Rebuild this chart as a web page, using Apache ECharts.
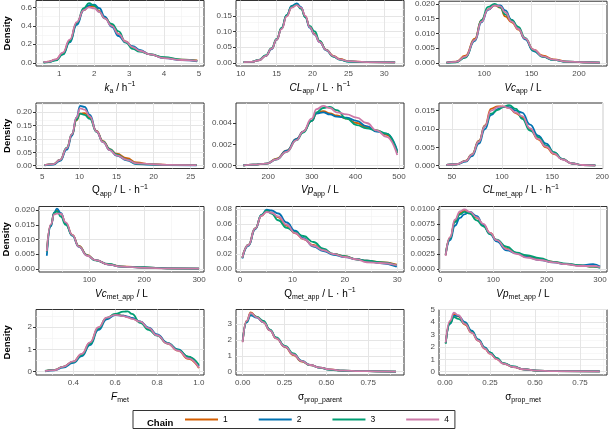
<!DOCTYPE html>
<html><head><meta charset="utf-8">
<script src="https://cdn.jsdelivr.net/npm/echarts@6/dist/echarts.min.js"></script>
<style>html,body{margin:0;padding:0;background:#fff}#c{width:612px;height:431px}</style>
</head><body><div id="c"></div>
<script>
const chains = ['1','2','3','4'];
const chainColors = ['#D55E00','#0072B2','#009E73','#CC79A7'];

// Panel 1: k_a
const kaX  = [0.55,0.7,0.9,1.1,1.3,1.5,1.7,1.85,2.0,2.15,2.3,2.5,2.7,2.9,3.1,3.3,3.6,4.0,4.5,4.95];
const kaY1 = [0.005,0.012,0.035,0.10,0.24,0.43,0.57,0.615,0.61,0.56,0.49,0.41,0.31,0.23,0.17,0.13,0.09,0.055,0.035,0.025];
const kaY2 = [0.004,0.010,0.030,0.09,0.22,0.41,0.57,0.625,0.63,0.59,0.50,0.39,0.29,0.22,0.18,0.14,0.09,0.05,0.03,0.015];
const kaY3 = [0.003,0.008,0.025,0.09,0.23,0.43,0.59,0.645,0.62,0.55,0.48,0.42,0.34,0.22,0.15,0.12,0.09,0.06,0.035,0.02];
const kaY4 = [0.006,0.013,0.037,0.11,0.25,0.44,0.57,0.60,0.59,0.55,0.48,0.40,0.31,0.23,0.17,0.13,0.09,0.05,0.03,0.02];

// Panel 2: CL_app
const clX  = [10.4,11.5,12.5,13.5,14.3,15,15.7,16.4,17.1,17.8,18.4,19,19.6,20.3,21,21.9,22.9,23.8,25,27.5,31.5];
const clY1 = [0.002,0.003,0.008,0.022,0.045,0.074,0.11,0.15,0.178,0.185,0.175,0.148,0.115,0.092,0.068,0.042,0.022,0.012,0.005,0.002,0.001];
const clY2 = [0.002,0.003,0.008,0.022,0.044,0.073,0.11,0.152,0.182,0.19,0.178,0.146,0.112,0.09,0.066,0.04,0.02,0.01,0.004,0.002,0.001];
const clY3 = [0.002,0.003,0.009,0.024,0.047,0.076,0.112,0.152,0.179,0.186,0.172,0.145,0.118,0.10,0.07,0.041,0.02,0.01,0.004,0.002,0.001];
const clY4 = [0.002,0.003,0.008,0.022,0.045,0.074,0.108,0.148,0.176,0.184,0.176,0.15,0.114,0.09,0.066,0.041,0.021,0.011,0.005,0.002,0.001];

// Panel 3: Vc_app
const vcX  = [60,70,80,90,97,104,111,117,122,129,136,143,152,162,173,187,205,222];
const vcY1 = [0.0001,0.0004,0.0024,0.0082,0.0145,0.0182,0.0195,0.0188,0.0158,0.0138,0.0113,0.0082,0.0045,0.0024,0.0012,0.0004,0.0002,0.0001];
const vcY2 = [0.0001,0.0003,0.0019,0.0075,0.0138,0.0180,0.0196,0.0195,0.0178,0.0146,0.0116,0.0080,0.0040,0.0020,0.0010,0.0004,0.0002,0.0001];
const vcY3 = [0.0000,0.0002,0.0018,0.0078,0.0145,0.0190,0.0200,0.0188,0.0165,0.0145,0.0122,0.0085,0.0042,0.0020,0.0010,0.0004,0.0002,0.0001];
const vcY4 = [0.0001,0.0003,0.0021,0.0078,0.0140,0.0182,0.0195,0.0192,0.0172,0.0140,0.0115,0.0083,0.0045,0.0022,0.0011,0.0004,0.0002,0.0001];

// Panel 4: Q_app
const qX  = [5.3,6.5,7.4,8.3,9,9.6,10.1,10.7,11.4,12.3,13.2,14.1,15,16.4,17.7,19.5,21.8,25.8];
const qY1 = [0.002,0.006,0.022,0.066,0.115,0.17,0.195,0.197,0.18,0.13,0.092,0.062,0.045,0.028,0.012,0.006,0.003,0.002];
const qY2 = [0.001,0.004,0.018,0.060,0.112,0.18,0.224,0.22,0.19,0.128,0.088,0.058,0.038,0.02,0.006,0.004,0.002,0.001];
const qY3 = [0.002,0.006,0.022,0.068,0.118,0.172,0.195,0.19,0.175,0.127,0.09,0.062,0.042,0.023,0.008,0.005,0.003,0.002];
const qY4 = [0.002,0.006,0.022,0.066,0.118,0.18,0.215,0.21,0.185,0.128,0.088,0.058,0.039,0.022,0.009,0.006,0.003,0.002];

// Panel 5: Vp_app
const vpX  = [142.6,165,196,219,242,265,280,299.5,311,326,341.5,357,380,403,425.7,448.7,471.6,496];
const vpY1 = [0.00003,0.0001,0.0002,0.00066,0.0014,0.0025,0.0032,0.0042,0.0049,0.0051,0.0049,0.0047,0.0044,0.0040,0.0036,0.0033,0.0029,0.0013];
const vpY2 = [0.00003,0.0001,0.0002,0.0006,0.0014,0.0025,0.0032,0.0042,0.0049,0.0050,0.0048,0.0046,0.0045,0.0042,0.0037,0.0032,0.0030,0.0014];
const vpY3 = [0.00002,0.0001,0.0002,0.0006,0.0013,0.0024,0.0031,0.0042,0.0050,0.0054,0.0055,0.0052,0.0044,0.0038,0.0035,0.0033,0.0030,0.0012];
const vpY4 = [0.00003,0.0001,0.0002,0.0006,0.0013,0.0024,0.0032,0.0044,0.0053,0.0056,0.0054,0.0050,0.0048,0.0045,0.0040,0.0033,0.0027,0.0010];

// Panel 6: CL_met_app
const cmX  = [44.5,55,64,70,77,83,89,96,101,107,114,120,128,136,144,152,160,170,180,193];
const cmY1 = [0.0002,0.0004,0.0014,0.0031,0.0068,0.011,0.0155,0.0162,0.0161,0.0158,0.0143,0.0132,0.0100,0.0072,0.0050,0.0032,0.0018,0.0006,0.0002,0.0001];
const cmY2 = [0.0002,0.0004,0.0011,0.0026,0.006,0.0100,0.0138,0.0155,0.0160,0.0160,0.0150,0.0145,0.0112,0.0082,0.0060,0.0036,0.0018,0.0006,0.0002,0.0001];
const cmY3 = [0.0002,0.0004,0.0013,0.0030,0.0066,0.0108,0.0142,0.0152,0.0160,0.0165,0.0155,0.0128,0.0096,0.0078,0.0055,0.0036,0.0018,0.0006,0.0002,0.0001];
const cmY4 = [0.0002,0.0004,0.0013,0.0030,0.0066,0.0108,0.0150,0.0160,0.0162,0.0157,0.0145,0.0135,0.0102,0.0073,0.0052,0.0033,0.0017,0.0006,0.0002,0.0001];

// Panel 7: Vc_met_app
const vmX  = [22.5,30,36,41,48,57,69,81,96,111,135,158,200,242,300];
const vmY1 = [0.0058,0.015,0.019,0.0198,0.0188,0.0155,0.0116,0.0078,0.0048,0.003,0.0016,0.0009,0.0005,0.0002,0.0001];
const vmY2 = [0.0045,0.0145,0.0192,0.0205,0.019,0.0153,0.0113,0.0075,0.0046,0.003,0.0015,0.0008,0.0005,0.0002,0.0001];
const vmY3 = [0.0058,0.015,0.019,0.0195,0.0178,0.015,0.0114,0.0077,0.0046,0.0029,0.0017,0.0008,0.0005,0.0002,0.0001];
const vmY4 = [0.0060,0.0152,0.0185,0.0188,0.0188,0.0158,0.0116,0.0076,0.0045,0.003,0.0015,0.0008,0.0004,0.0002,0.0001];

// Panel 8: Q_met_app
const qmX  = [0.45,1.6,2.9,4.1,5.1,6,7.3,8.9,10.5,12.1,14,15.9,17.8,20,22.2,24.2,26.7,29.9];
const qmY1 = [0.015,0.032,0.054,0.071,0.077,0.075,0.069,0.058,0.048,0.04,0.032,0.025,0.02,0.017,0.013,0.011,0.009,0.006];
const qmY2 = [0.014,0.031,0.053,0.072,0.079,0.078,0.074,0.062,0.051,0.041,0.03,0.024,0.019,0.016,0.013,0.011,0.008,0.003];
const qmY3 = [0.015,0.032,0.054,0.072,0.078,0.074,0.065,0.055,0.049,0.044,0.036,0.027,0.02,0.017,0.013,0.011,0.009,0.005];
const qmY4 = [0.015,0.032,0.054,0.071,0.076,0.075,0.07,0.059,0.048,0.04,0.031,0.025,0.02,0.016,0.013,0.009,0.008,0.005];

// Panel 9: Vp_met_app
const pmX  = [10.6,19,28,37.5,45.6,56,69,81,94,106,125,144,162,187,212,237,262,287,300];
const pmY1 = [0.0023,0.0052,0.0079,0.0093,0.0097,0.0093,0.0085,0.0074,0.006,0.0048,0.0034,0.0026,0.0021,0.0016,0.0012,0.0008,0.0006,0.0004,0.0003];
const pmY2 = [0.0024,0.0048,0.0072,0.0085,0.0091,0.0095,0.0088,0.0073,0.0058,0.0046,0.0031,0.0026,0.002,0.0015,0.0011,0.0008,0.0006,0.0008,0.0004];
const pmY3 = [0.0024,0.0051,0.0078,0.0091,0.0095,0.0092,0.0081,0.0071,0.0058,0.0049,0.0037,0.0027,0.0023,0.0018,0.0012,0.0009,0.0006,0.0004,0.0002];
const pmY4 = [0.0022,0.0053,0.0082,0.0096,0.0099,0.0095,0.0086,0.0075,0.006,0.0048,0.0033,0.0025,0.0019,0.0015,0.0011,0.0008,0.0005,0.0005,0.0003];

// Panel 10: F_met
const fX  = [0.265,0.31,0.35,0.4,0.44,0.48,0.52,0.56,0.6,0.64,0.66,0.68,0.72,0.76,0.8,0.85,0.9,0.95,1.0];
const fY1 = [0.03,0.08,0.22,0.45,0.78,1.3,1.98,2.42,2.58,2.52,2.46,2.4,2.24,1.95,1.65,1.27,0.95,0.58,0.16];
const fY2 = [0.02,0.06,0.18,0.40,0.70,1.2,1.88,2.36,2.55,2.52,2.48,2.42,2.26,1.98,1.68,1.3,1.0,0.65,0.25];
const fY3 = [0.04,0.08,0.22,0.44,0.75,1.25,1.95,2.42,2.6,2.7,2.72,2.6,2.2,1.88,1.62,1.28,0.98,0.68,0.3];
const fY4 = [0.02,0.07,0.22,0.46,0.8,1.32,2.0,2.43,2.56,2.5,2.45,2.38,2.25,1.96,1.64,1.27,0.95,0.6,0.18];

// Panel 11: sigma_prop_parent
const spX  = [0.0,0.024,0.048,0.084,0.124,0.163,0.2,0.253,0.303,0.353,0.402,0.462,0.522,0.6,0.7,0.8,0.916];
const spY1 = [1.9,3.2,3.72,3.45,3.1,2.6,2.1,1.55,1.05,0.63,0.42,0.26,0.14,0.06,0.04,0.02,0.01];
const spY2 = [1.95,3.1,3.55,3.4,3.12,2.62,2.12,1.58,1.1,0.68,0.43,0.25,0.13,0.06,0.04,0.02,0.01];
const spY3 = [1.9,3.15,3.65,3.45,3.2,2.65,2.15,1.62,1.15,0.66,0.41,0.24,0.12,0.06,0.04,0.02,0.01];
const spY4 = [1.85,3.2,3.68,3.42,3.1,2.6,2.1,1.57,1.08,0.66,0.42,0.25,0.14,0.07,0.04,0.02,0.01];

// Panel 12: sigma_prop_met
const smX  = [0.004,0.028,0.05,0.074,0.111,0.148,0.185,0.222,0.25,0.287,0.324,0.38,0.435,0.51,0.6,0.86];
const smY1 = [2.3,3.95,4.6,4.45,3.8,3.15,2.5,1.85,1.45,1.02,0.66,0.38,0.2,0.08,0.04,0.02];
const smY2 = [2.3,3.85,4.5,4.5,4.0,3.3,2.6,1.95,1.55,1.1,0.68,0.4,0.2,0.09,0.04,0.02];
const smY3 = [2.25,3.9,4.4,4.25,3.9,3.2,2.55,1.9,1.55,1.12,0.7,0.42,0.2,0.09,0.04,0.02];
const smY4 = [2.35,4.1,4.75,4.55,3.85,3.15,2.5,1.85,1.45,1.02,0.65,0.38,0.2,0.09,0.04,0.02];

// Tick values and labels
const ticks = {
  ka:{x:[1,2,3,4,5], xl:['1','2','3','4','5'], y:[0,0.2,0.4,0.6], yl:['0.0','0.2','0.4','0.6']},
  cl:{x:[10,15,20,25,30], xl:['10','15','20','25','30'], y:[0,0.05,0.1,0.15], yl:['0.00','0.05','0.10','0.15']},
  vc:{x:[100,150,200], xl:['100','150','200'], y:[0,0.005,0.01,0.015,0.02], yl:['0.000','0.005','0.010','0.015','0.020']},
  q:{x:[5,10,15,20,25], xl:['5','10','15','20','25'], y:[0,0.05,0.1,0.15,0.2], yl:['0.00','0.05','0.10','0.15','0.20']},
  vp:{x:[200,300,400,500], xl:['200','300','400','500'], y:[0,0.002,0.004], yl:['0.000','0.002','0.004']},
  cm:{x:[50,100,150,200], xl:['50','100','150','200'], y:[0,0.005,0.01,0.015], yl:['0.000','0.005','0.010','0.015']},
  vm:{x:[100,200,300], xl:['100','200','300'], y:[0,0.005,0.01,0.015,0.02], yl:['0.000','0.005','0.010','0.015','0.020']},
  qm:{x:[0,10,20,30], xl:['0','10','20','30'], y:[0,0.02,0.04,0.06,0.08], yl:['0.00','0.02','0.04','0.06','0.08']},
  pm:{x:[0,100,200,300], xl:['0','100','200','300'], y:[0,0.0025,0.005,0.0075,0.01], yl:['0.0000','0.0025','0.0050','0.0075','0.0100']},
  f:{x:[0.4,0.6,0.8,1.0], xl:['0.4','0.6','0.8','1.0'], y:[0,1,2], yl:['0','1','2']},
  sp:{x:[0,0.25,0.5,0.75], xl:['0.00','0.25','0.50','0.75'], y:[0,1,2,3], yl:['0','1','2','3']},
  sm:{x:[0,0.25,0.5,0.75], xl:['0.00','0.25','0.50','0.75'], y:[0,1,2,3,4,5], yl:['0','1','2','3','4','5']}
};

const panels = [
  {k:'ka', x:kaX, y:[kaY1,kaY2,kaY3,kaY4], xlim:[0.333,5.143], ylim:[-0.035,0.674], name:'{i|k}{s|a}{n| / h}{p|−1}'},
  {k:'cl', x:clX, y:[clY1,clY2,clY3,clY4], xlim:[9.345,32.74], ylim:[-0.0103,0.1989], name:'{i|CL}{s|app}{n| / L · h}{p|−1}'},
  {k:'vc', x:vcX, y:[vcY1,vcY2,vcY3,vcY4], xlim:[52.16,229.6], ylim:[-0.00108,0.02095], name:'{i|Vc}{s|app}{n| / L}'},
  {k:'q',  x:qX,  y:[qY1,qY2,qY3,qY4], xlim:[4.151,26.79], ylim:[-0.0105,0.2348], name:'{n|Q}{s|app}{n| / L · h}{p|−1}'},
  {k:'vp', x:vpX, y:[vpY1,vpY2,vpY3,vpY4], xlim:[125.9,511.5], ylim:[-0.00026,0.00587], name:'{i|Vp}{s|app}{n| / L}'},
  {k:'cm', x:cmX, y:[cmY1,cmY2,cmY3,cmY4], xlim:[37.2,200.3], ylim:[-0.00076,0.0171], name:'{i|CL}{s|met_app}{n| / L · h}{p|−1}'},
  {k:'vm', x:vmX, y:[vmY1,vmY2,vmY3,vmY4], xlim:[8.11,309], ylim:[-0.00102,0.0212], name:'{i|Vc}{s|met_app}{n| / L}'},
  {k:'qm', x:qmX, y:[qmY1,qmY2,qmY3,qmY4], xlim:[-0.763,31.28], ylim:[-0.004,0.0833], name:'{n|Q}{s|met_app}{n| / L · h}{p|−1}'},
  {k:'pm', x:pmX, y:[pmY1,pmY2,pmY3,pmY4], xlim:[-1.875,313.1], ylim:[-0.0005,0.0104], name:'{i|Vp}{s|met_app}{n| / L}'},
  {k:'f',  x:fX,  y:[fY1,fY2,fY3,fY4], xlim:[0.2218,1.0244], ylim:[-0.149,2.80], name:'{i|F}{s|met}'},
  {k:'sp', x:spX, y:[spY1,spY2,spY3,spY4], xlim:[-0.04,0.964], ylim:[-0.2075,3.91], name:'{n|σ}{s|prop_parent}'},
  {k:'sm', x:smX, y:[smY1,smY2,smY3,smY4], xlim:[-0.0333,0.9], ylim:[-0.264,5.01], name:'{n|σ}{s|prop_met}'}
];

const colLeft = [36, 236, 439], W = 168;
const rowTop = [0.5, 103, 206.5, 309.5], H = 65.5;
const FONT = 'Liberation Sans, Arial, sans-serif';

function minors(t, lim) {
  const out = [];
  const step = t[1] - t[0];
  const ext = [t[0] - step].concat(t, [t[t.length-1] + step]);
  for (let i = 0; i < ext.length - 1; i++) {
    const m = (ext[i] + ext[i+1]) / 2;
    if (m > lim[0] && m < lim[1]) out.push(m);
  }
  return out;
}
function fmt(vals, labs) {
  return function (v) {
    for (let i = 0; i < vals.length; i++) if (Math.abs(vals[i] - v) < 1e-9 * Math.max(1, Math.abs(v)) + 1e-12) return labs[i];
    return '';
  };
}

const grid = [], xAxis = [], yAxis = [], series = [];
const rich = {
  n:{fontSize:10, color:'#000', fontFamily:FONT},
  i:{fontSize:10, color:'#000', fontStyle:'italic', fontFamily:FONT},
  s:{fontSize:7, color:'#000', fontFamily:FONT, padding:[7,0,0,0], verticalAlign:'middle'},
  p:{fontSize:7, color:'#000', fontFamily:FONT, padding:[0,0,7,0], verticalAlign:'middle'}
};

panels.forEach((p, idx) => {
  const r = Math.floor(idx / 3), c = idx % 3;
  const t = ticks[p.k];
  grid.push({left: colLeft[c], top: rowTop[r], width: W, height: H, show: true,
    borderColor: '#333', borderWidth: 1, backgroundColor: '#fff', containLabel: false});
  xAxis.push({type:'value', gridIndex: idx, min: p.xlim[0], max: p.xlim[1],
    name: p.name, nameLocation:'middle', nameGap: 15,
    nameTextStyle:{rich: rich, fontFamily: FONT, fontSize:10, color:'#000'},
    axisLine:{show:false}, splitLine:{show:false},
    axisTick:{show:true, length:3, lineStyle:{color:'#333', width:1}, customValues: t.x},
    axisLabel:{show:true, customValues: t.x, formatter: fmt(t.x, t.xl), fontSize:8, color:'#4D4D4D', margin:4, fontFamily: FONT}
  });
  yAxis.push({type:'value', gridIndex: idx, min: p.ylim[0], max: p.ylim[1],
    name: c === 0 ? 'Density' : '', nameLocation:'middle', nameGap: 24,
    nameTextStyle:{fontSize:9.5, fontWeight:'bold', color:'#000', fontFamily: FONT},
    axisLine:{show:false}, splitLine:{show:false},
    axisTick:{show:true, length:3, lineStyle:{color:'#333', width:1}, customValues: t.y},
    axisLabel:{show:true, customValues: t.y, formatter: fmt(t.y, t.yl), fontSize:8, color:'#4D4D4D', margin:4, fontFamily: FONT}
  });
  const gl = [];
  minors(t.x, p.xlim).forEach(v => gl.push({xAxis: v, lineStyle:{color:'#F2F2F2', width:0.6, type:'solid'}}));
  minors(t.y, p.ylim).forEach(v => gl.push({yAxis: v, lineStyle:{color:'#F2F2F2', width:0.6, type:'solid'}}));
  t.x.forEach(v => gl.push({xAxis: v, lineStyle:{color:'#E5E5E5', width:1, type:'solid'}}));
  t.y.forEach(v => gl.push({yAxis: v, lineStyle:{color:'#E5E5E5', width:1, type:'solid'}}));
  series.push({type:'line', name:'grid', xAxisIndex: idx, yAxisIndex: idx, data: [], silent: true, z: 1,
    markLine:{silent:true, symbol:['none','none'], z:1, animation:false, label:{show:false}, emphasis:{disabled:true}, data: gl}});
  chains.forEach((ch, j) => {
    series.push({type:'line', name: ch, xAxisIndex: idx, yAxisIndex: idx, z: 2 + j,
      data: p.x.map((xv, i) => [xv, p.y[j][i]]),
      smooth: 0.5, smoothMonotone: 'x', symbol:'none', showSymbol:false,
      lineStyle:{color: chainColors[j], width: 1.8}, itemStyle:{color: chainColors[j]},
      emphasis:{disabled:true}, animation:false});
  });
});

const chart = echarts.init(document.getElementById('c'), null, {renderer:'canvas'});
chart.setOption({
  animation: false,
  backgroundColor: '#fff',
  title: {text:'Chain', left: 142, top: 413, textStyle:{fontSize:9.5, fontWeight:'bold', color:'#000', fontFamily: FONT}},
  legend: {data: chains.map(c => ({name: c, icon: 'rect'})), left: 133, top: 410.5, orient:'horizontal', padding:[4,6,4,52], itemGap: 31,
    itemWidth: 33, itemHeight: 2, borderColor:'#333', borderWidth: 1, backgroundColor:'#fff',
    textStyle:{fontSize:8.5, color:'#000', fontFamily: FONT, lineHeight: 10}, selectedMode: false},
  grid: grid, xAxis: xAxis, yAxis: yAxis, series: series
});
</script></body></html>
